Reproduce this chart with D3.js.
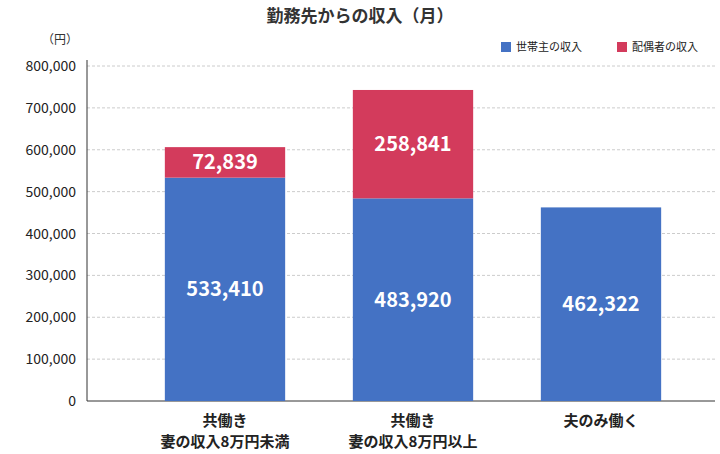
<!DOCTYPE html>
<html><head><meta charset="utf-8">
<script src="https://cdn.jsdelivr.net/npm/d3@7"></script>
<style>body{margin:0;background:#fff}text{font-family:"Noto Sans CJK JP","Noto Sans",sans-serif}</style>
</head><body><svg id="c" width="720" height="454"></svg>
<script>
const categories = [["共働き","妻の収入8万円未満"],["共働き","妻の収入8万円以上"],["夫のみ働く"]];
const headIncome = [533410, 483920, 462322];
const spouseIncome = [72839, 258841, 0];
const seriesNames = ["世帯主の収入","配偶者の収入"];
const colors = ["#4472C4","#D33B5C"];
const ticks = [0,100000,200000,300000,400000,500000,600000,700000,800000];

const svg = d3.select("#c");
const y = d3.scaleLinear().domain([0,800000]).range([401,66]);
const x = d3.scaleBand().domain(d3.range(3)).range([131,695]).paddingInner(0.36).paddingOuter(0.18);
const fmt = d3.format(",");

svg.append("text").attr("x",360).attr("y",22).attr("text-anchor","middle")
  .attr("font-size",17).attr("font-weight","bold").attr("fill","#333").text("勤務先からの収入（月）");
svg.append("text").attr("x",60).attr("y",44).attr("text-anchor","middle").attr("font-size",12).attr("fill","#333").text("（円）");

const gy = svg.append("g");
ticks.forEach(t=>{
  if(t>0) gy.append("line").attr("x1",87).attr("x2",715).attr("y1",y(t)).attr("y2",y(t)).attr("stroke","#ccc").attr("stroke-dasharray","3,2");
  gy.append("text").attr("x",76).attr("y",y(t)+5).attr("text-anchor","end").attr("font-size",14).attr("fill","#222").text(fmt(t));
});
gy.append("line").attr("x1",87).attr("x2",87).attr("y1",60).attr("y2",401).attr("stroke","#333");
gy.append("line").attr("x1",87).attr("x2",715).attr("y1",401).attr("y2",401).attr("stroke","#333");

const bars = svg.append("g");
d3.range(3).forEach(i=>{
  const h=headIncome[i], s=spouseIncome[i];
  bars.append("rect").attr("x",x(i)).attr("width",x.bandwidth()).attr("y",y(h)).attr("height",y(0)-y(h)).attr("fill",colors[0]);
  bars.append("text").attr("x",x(i)+x.bandwidth()/2).attr("y",(y(h)+y(0))/2+7).attr("text-anchor","middle")
    .attr("font-size",20).attr("font-weight","bold").attr("fill","#fff").text(fmt(h));
  if(s>0){
    bars.append("rect").attr("x",x(i)).attr("width",x.bandwidth()).attr("y",y(h+s)).attr("height",y(h)-y(h+s)).attr("fill",colors[1]);
    bars.append("text").attr("x",x(i)+x.bandwidth()/2).attr("y",(y(h)+y(h+s))/2+7).attr("text-anchor","middle")
      .attr("font-size",20).attr("font-weight","bold").attr("fill","#fff").text(fmt(s));
  }
  categories[i].forEach((l,j)=>{
    svg.append("text").attr("x",x(i)+x.bandwidth()/2).attr("y",426+j*21).attr("text-anchor","middle")
      .attr("font-size",15).attr("font-weight","bold").attr("fill","#222").text(l);
  });
});

const lg = svg.append("g");
[[501,0],[617,1]].forEach(([lx,k])=>{
  lg.append("rect").attr("x",lx).attr("y",42).attr("width",10).attr("height",10).attr("fill",colors[k]);
  lg.append("text").attr("x",lx+15).attr("y",51).attr("font-size",11).attr("fill","#222").text(seriesNames[k]);
});
</script></body></html>
